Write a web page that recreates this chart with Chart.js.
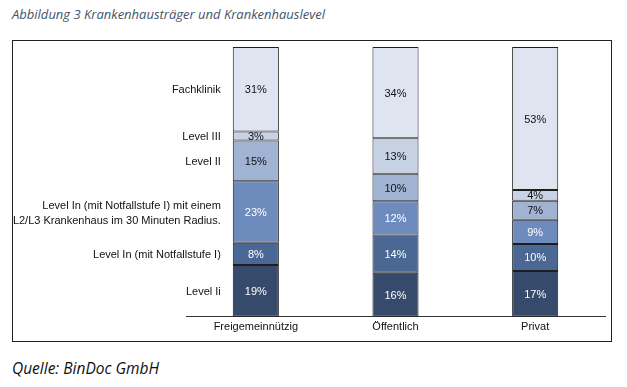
<!DOCTYPE html>
<html>
<head>
<meta charset="utf-8">
<script src="https://cdn.jsdelivr.net/npm/chart.js@4.4.1/dist/chart.umd.min.js"></script>
<style>
  html, body { margin: 0; padding: 0; background: #fff; }
  body { width: 627px; height: 387px; position: relative; overflow: hidden; }
  #title {
    position: absolute; left: 12px; top: 5px;
    font-family: 'Open Sans', sans-serif; font-style: italic; font-size: 13px;
    color: #44546a; white-space: nowrap;
  }
  #box {
    position: absolute; left: 12px; top: 40px; width: 598px; height: 300px;
    border: 1px solid #222;
  }
  #source {
    position: absolute; left: 12px; top: 357px;
    font-family: 'Open Sans', sans-serif; font-style: italic; font-size: 15.5px;
    color: #111; white-space: nowrap;
  }
</style>
</head>
<body>
<div id="title">Abbildung 3 Krankenhausträger und Krankenhauslevel</div>
<div id="box"><canvas id="chart" width="598" height="300"></canvas></div>
<div id="source">Quelle: BinDoc GmbH</div>
<script>
// categories (Träger)
const categories = ['Freigemeinnützig', 'Öffentlich', 'Privat'];

// levels from bottom to top
const levels = [
    'Level Ii',
    'Level In (mit Notfallstufe I)',
    ['Level In (mit Notfallstufe I) mit einem', 'L2/L3 Krankenhaus im 30 Minuten Radius.'],
    'Level II',
    'Level III',
    'Fachklinik'
];

// share in percent per level (same order as levels)
const levelIi     = [19.2, 16.3, 17];
const levelIn     = [8.2, 14.2, 10];
const levelInL2L3 = [22.8, 12.3, 9];
const levelII     = [15.1, 10.2, 7];
const levelIII    = [3.4, 13.2, 4];
const fachklinik  = [31.3, 33.8, 53];

const colors = ['#364a6b', '#4b6793', '#6d8cbd', '#a0b3d2', '#c7d2e4', '#dfe5f0'];
const textColors = ['#ffffff', '#ffffff', '#ffffff', '#111111', '#111111', '#111111'];

const series = [levelIi, levelIn, levelInL2L3, levelII, levelIII, fachklinik];

const datasets = series.map((data, i) => ({
    label: Array.isArray(levels[i]) ? levels[i].join(' ') : levels[i],
    data: data,
    backgroundColor: colors[i],
    borderColor: '#1e1e1e',
    borderWidth: 1,
    borderSkipped: false,
    barPercentage: 0.66,
    categoryPercentage: 0.5
}));

// value labels inside the segments and level names left of the first bar
const labelPlugin = {
    id: 'segmentLabels',
    afterDatasetsDraw(chart) {
        const { ctx } = chart;
        ctx.save();
        ctx.font = '11px "Liberation Sans", Arial, sans-serif';
        ctx.textBaseline = 'middle';
        chart.data.datasets.forEach((ds, i) => {
            const meta = chart.getDatasetMeta(i);
            meta.data.forEach((bar, j) => {
                const y = (bar.y + bar.base) / 2;
                ctx.textAlign = 'center';
                ctx.fillStyle = textColors[i];
                ctx.fillText(Math.round(ds.data[j]) + '%', bar.x, y + 1);
                if (j === 0) {
                    ctx.textAlign = 'right';
                    ctx.fillStyle = '#111';
                    const x = bar.x - bar.width / 2 - 12;
                    const name = levels[i];
                    if (Array.isArray(name)) {
                        const lh = 15;
                        name.forEach((line, k) => {
                            ctx.fillText(line, x, y + 1 + (k - (name.length - 1) / 2) * lh);
                        });
                    } else {
                        ctx.fillText(name, x, y + 1);
                    }
                }
            });
        });
        ctx.restore();
    }
};

new Chart(document.getElementById('chart'), {
    type: 'bar',
    data: { labels: categories, datasets: datasets },
    options: {
        responsive: false,
        animation: false,
        layout: { padding: { left: 173, right: 6, top: 6, bottom: 3 } },
        plugins: {
            legend: { display: false },
            tooltip: { enabled: false }
        },
        scales: {
            x: {
                stacked: true,
                grid: { display: false, drawTicks: false },
                border: { display: true, color: '#333', width: 1 },
                ticks: {
                    color: '#111',
                    padding: 4,
                    font: { family: '"Liberation Sans", Arial, sans-serif', size: 11 }
                }
            },
            y: {
                stacked: true,
                display: false,
                min: 0,
                max: 100
            }
        }
    },
    plugins: [labelPlugin]
});
</script>
</body>
</html>
